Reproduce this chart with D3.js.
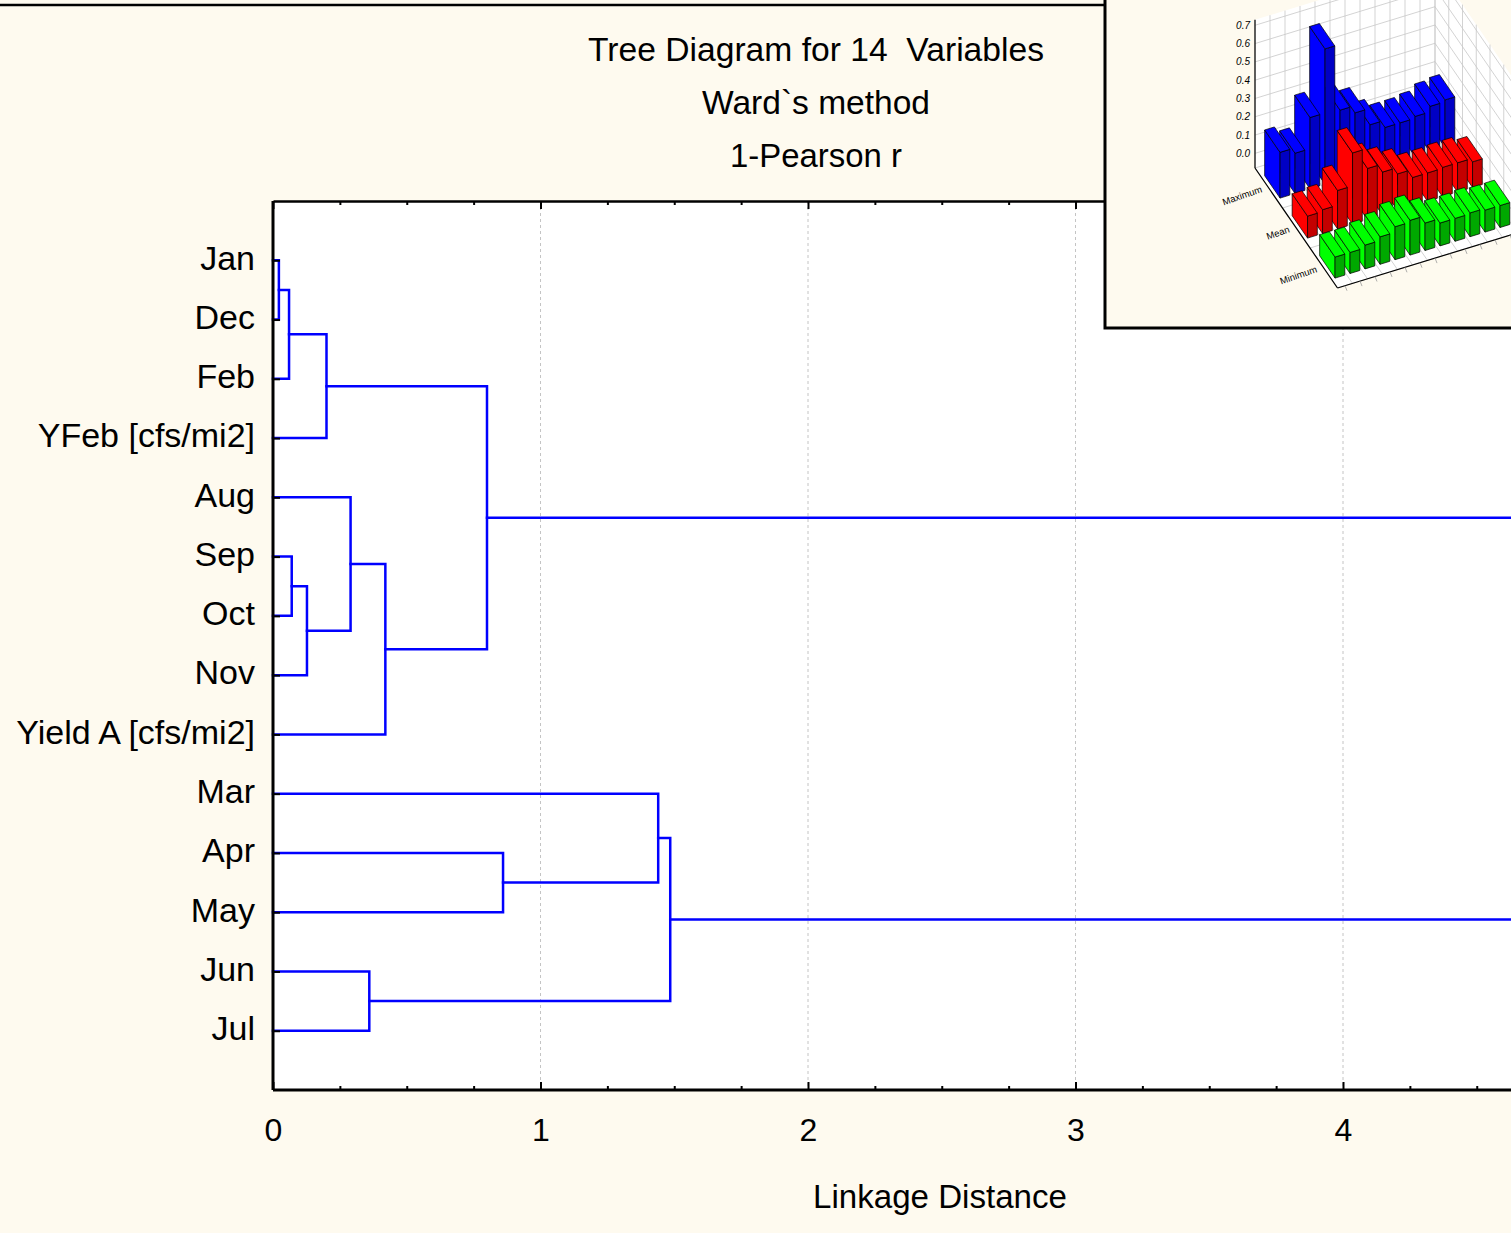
<!DOCTYPE html>
<html><head><meta charset="utf-8">
<script src="https://cdn.jsdelivr.net/npm/d3@7"></script>
<style>
html,body{margin:0;padding:0;background:#fefaef;}
svg{display:block;font-family:"Liberation Sans",Arial,sans-serif;}
text{white-space:pre;}
</style>
</head><body>
<svg id="chart" width="1511" height="1233"></svg>
<script>
// ---------------- data ----------------
const leafLabels = ["Jan","Dec","Feb","YFeb [cfs/mi2]","Aug","Sep","Oct","Nov","Yield A [cfs/mi2]","Mar","Apr","May","Jun","Jul"];
// linkage: leaves are 0..13, merge k creates node 14+k
const mergeLeft   = [0, 14, 15, 5, 17, 4, 19, 16, 10, 9, 12, 23, 21];
const mergeRight  = [1, 2, 3, 6, 7, 18, 8, 20, 11, 22, 13, 24, 25];
const mergeHeight = [0.022, 0.06, 0.20, 0.07, 0.127, 0.29, 0.42, 0.80, 0.86, 1.44, 0.36, 1.485, 5.2];
const xLabelTicks = [0, 1, 2, 3, 4];
const xMajorTicks = [0, 1, 2, 3, 4, 5];
const xMinorTicks = [0.25, 0.5, 0.75, 1.25, 1.5, 1.75, 2.25, 2.5, 2.75, 3.25, 3.5, 3.75, 4.25, 4.5, 4.75, 5.25];
const titleLines = ["Tree Diagram for 14  Variables", "Ward`s method", "1-Pearson r"];
const xAxisTitle = "Linkage Distance";

// inset 3D bar chart
const insetColumns = ["1","2","3","4","5","6","7","8","9","10","11","12"];
const insetRows = ["Maximum", "Mean", "Minimum"];
const insetMaximum = [0.17, 0.14, 0.31, 0.66, 0.30, 0.26, 0.17, 0.13, 0.13, 0.14, 0.17, 0.18];
const insetMean    = [0.04, 0.05, 0.13, 0.31, 0.20, 0.155, 0.12, 0.075, 0.075, 0.08, 0.08, 0.06];
const insetMinimum = [0.035, 0.035, 0.05, 0.07, 0.10, 0.11, 0.07, 0.045, 0.045, 0.05, 0.04, 0.04];
const insetTicks = [0.0, 0.1, 0.2, 0.3, 0.4, 0.5, 0.6, 0.7];

// ---------------- chart ----------------
const svg = d3.select("#chart");
const bg = "#fefaef";
svg.append("rect").attr("width", 1511).attr("height", 1233).attr("fill", bg);

// outer frame top line
svg.append("line").attr("x1", 0).attr("x2", 1511).attr("y1", 5).attr("y2", 5)
  .attr("stroke", "#000").attr("stroke-width", 2.5);

const plot = {left: 273, top: 201, bottom: 1090, right: 1530};
const x = d3.scaleLinear().domain([0, 5]).range([plot.left, plot.left + 5 * 267.5]);
const y = d3.scalePoint().domain(leafLabels).range([plot.top, plot.bottom]).padding(1);

svg.append("rect").attr("x", plot.left).attr("y", plot.top)
  .attr("width", plot.right - plot.left).attr("height", plot.bottom - plot.top)
  .attr("fill", "#fff");

// gridlines
svg.append("g").selectAll("line").data(xMajorTicks.filter(d => d > 0)).join("line")
  .attr("x1", d => x(d)).attr("x2", d => x(d))
  .attr("y1", plot.top).attr("y2", plot.bottom)
  .attr("stroke", "#c4c4c4").attr("stroke-width", 1).attr("stroke-dasharray", "3,3");

// titles
const titleY = [61, 114, 167];
const titleW = [456, 228, 172];
svg.append("g").selectAll("text").data(titleLines).join("text")
  .attr("x", 816).attr("y", (d, i) => titleY[i])
  .attr("text-anchor", "middle").attr("font-size", 33).attr("fill", "#000")
  .attr("textLength", (d, i) => titleW[i]).attr("lengthAdjust", "spacingAndGlyphs")
  .text(d => d);

// dendrogram
const nodeY = leafLabels.map(l => y(l));
const nodeH = leafLabels.map(() => 0);
const links = [];
mergeLeft.forEach((l, k) => {
  const r = mergeRight[k], h = mergeHeight[k];
  links.push({l, r, h});
  nodeY.push((nodeY[l] + nodeY[r]) / 2);
  nodeH.push(h);
});
svg.append("g").selectAll("path").data(links).join("path")
  .attr("d", d => `M${x(nodeH[d.l])},${nodeY[d.l]}H${x(d.h)}V${nodeY[d.r]}H${x(nodeH[d.r])}`)
  .attr("fill", "none").attr("stroke", "#0000ff").attr("stroke-width", 2.5)
  .attr("stroke-linejoin", "miter").attr("stroke-linecap", "square");

// axes
function styleAxis(g) {
  g.select(".domain").attr("stroke", "#000").attr("stroke-width", 3);
  g.selectAll(".tick line").attr("stroke", "#000").attr("stroke-width", 2);
  g.selectAll("text").attr("fill", "#000").attr("font-family", "'Liberation Sans',Arial,sans-serif");
}
// bottom
const gBottom = svg.append("g").attr("transform", `translate(0,${plot.bottom})`)
  .call(d3.axisBottom(x).tickValues(xLabelTicks).tickSize(-8).tickPadding(28).tickFormat(d3.format("d")).tickSizeOuter(0));
styleAxis(gBottom);
gBottom.select(".domain").attr("d", `M${plot.left},0H${plot.right}`);
gBottom.selectAll("text").attr("font-size", 32);
svg.append("g").attr("transform", `translate(0,${plot.bottom})`)
  .call(d3.axisBottom(x).tickValues(xMinorTicks).tickSize(-4).tickFormat("").tickSizeOuter(0))
  .call(g => { g.select(".domain").remove(); g.selectAll(".tick line").attr("stroke", "#000").attr("stroke-width", 2); });
// top
const gTop = svg.append("g").attr("transform", `translate(0,${plot.top})`)
  .call(d3.axisTop(x).tickValues(xMajorTicks).tickSize(-8).tickFormat("").tickSizeOuter(0));
styleAxis(gTop);
gTop.select(".domain").attr("stroke-width", 2.5);
svg.append("g").attr("transform", `translate(0,${plot.top})`)
  .call(d3.axisTop(x).tickValues(xMinorTicks).tickSize(-4).tickFormat("").tickSizeOuter(0))
  .call(g => { g.select(".domain").remove(); g.selectAll(".tick line").attr("stroke", "#000").attr("stroke-width", 2); });
// left
const gLeft = svg.append("g").attr("transform", `translate(${plot.left},0)`)
  .call(d3.axisLeft(y).tickSize(-7).tickPadding(18).tickSizeOuter(0));
styleAxis(gLeft);
gLeft.selectAll("text").attr("font-size", 34).attr("dy", "0.26em");
gLeft.select(".domain").attr("d", `M0,${plot.top}V${plot.bottom}`);

// axis title
svg.append("text").attr("x", 940).attr("y", 1208).attr("text-anchor", "middle")
  .attr("font-size", 33).attr("fill", "#000")
  .attr("textLength", 254).attr("lengthAdjust", "spacingAndGlyphs")
  .text(xAxisTitle);

// ---------------- inset ----------------
const inset = svg.append("g");
const defs = svg.append("defs");
defs.append("clipPath").attr("id", "insetClip").append("rect")
  .attr("x", 1106.5).attr("y", 0).attr("width", 420).attr("height", 320.5);
inset.append("rect").attr("x", 1105).attr("y", -10).attr("width", 430).attr("height", 338)
  .attr("fill", bg).attr("stroke", "#000").attr("stroke-width", 3);
const ig = inset.append("g").attr("clip-path", "url(#insetClip)");

const vMin = -0.08, vTop = 0.73;
const colX = d3.scaleLinear().domain([0, 12]).range([0, 180]);
const colY = d3.scaleLinear().domain([0, 12]).range([0, -55.2]);
const rowX = d3.scaleLinear().domain([0, 3]).range([0, 82.5]);
const rowY = d3.scaleLinear().domain([0, 3]).range([0, 120]);
const zS = d3.scaleLinear().domain([vMin, vTop]).range([0, -148.2]);
const O = [1255, 168];
const P = (c, r, v) => [O[0] + colX(c) + rowX(r), O[1] + colY(c) + rowY(r) + zS(v)];
const poly = pts => "M" + pts.map(p => p.join(",")).join("L") + "Z";
const nC = insetColumns.length, nR = insetRows.length;

// walls and floor
ig.append("path").attr("d", poly([P(0,0,vMin), P(nC,0,vMin), P(nC,0,vTop), P(0,0,vTop)])).attr("fill", "#fff");
ig.append("path").attr("d", poly([P(nC,0,vMin), P(nC,nR,vMin), P(nC,nR,vTop), P(nC,0,vTop)])).attr("fill", "#fff");
ig.append("path").attr("d", poly([P(0,0,vMin), P(nC,0,vMin), P(nC,nR,vMin), P(0,nR,vMin)])).attr("fill", "#fff");
const grid = ig.append("g").attr("stroke", "#c8c8c8").attr("stroke-width", 0.8).attr("fill", "none");
const gridLines = [];
insetTicks.forEach(v => {
  gridLines.push([P(0,0,v), P(nC,0,v)]);
  gridLines.push([P(nC,0,v), P(nC,nR,v)]);
});
d3.range(nC + 1).forEach(c => {
  gridLines.push([P(c,0,vMin), P(c,0,vTop)]);
  gridLines.push([P(c,0,vMin), P(c,nR,vMin)]);
});
[0, 0.5, 1, 1.5, 2, 2.5, 3].forEach(r => gridLines.push([P(nC,r,vMin), P(nC,r,vTop)]));
d3.range(nR + 1).forEach(r => gridLines.push([P(0,r,vMin), P(nC,r,vMin)]));
grid.selectAll("line").data(gridLines).join("line")
  .attr("x1", d => d[0][0]).attr("y1", d => d[0][1]).attr("x2", d => d[1][0]).attr("y2", d => d[1][1]);

// axis lines
const axL = ig.append("g").attr("stroke", "#000").attr("stroke-width", 1.2);
[[P(0,0,vMin), P(0,0,vTop)], [P(0,0,vMin), P(0,nR,vMin)], [P(0,nR,vMin), P(nC,nR,vMin)]].forEach(s =>
  axL.append("line").attr("x1", s[0][0]).attr("y1", s[0][1]).attr("x2", s[1][0]).attr("y2", s[1][1]));
// front edge ticks
ig.append("g").selectAll("line").data(insetColumns).join("line")
  .attr("x1", (d, i) => P(i + 0.5, nR, vMin)[0]).attr("y1", (d, i) => P(i + 0.5, nR, vMin)[1])
  .attr("x2", (d, i) => P(i + 0.5, nR, vMin)[0] + 2).attr("y2", (d, i) => P(i + 0.5, nR, vMin)[1] + 5)
  .attr("stroke", "#999").attr("stroke-width", 0.8);

// z labels
ig.append("g").selectAll("text").data(insetTicks).join("text")
  .attr("x", d => P(0,0,d)[0] - 5).attr("y", d => P(0,0,d)[1] + 3.5)
  .attr("text-anchor", "end").attr("font-size", 10).attr("font-style", "italic").attr("fill", "#000")
  .text(d => d.toFixed(1));

// row labels
ig.append("g").selectAll("text").data(insetRows).join("text")
  .attr("transform", (d, j) => { const p = P(0, j + 0.5, vMin); return `translate(${p[0] - 6},${p[1] + 4}) rotate(-19)`; })
  .attr("text-anchor", "end").attr("font-size", 9.5).attr("fill", "#000")
  .text(d => d);

// bars
const rowData = [insetMaximum, insetMean, insetMinimum];
const bright = ["#0000ff", "#ff0000", "#00ff00"];
const dark = ["#0000c4", "#c40000", "#00a800"];
const bars = ig.append("g").attr("stroke", "#000").attr("stroke-width", 0.7).attr("stroke-linejoin", "round");
rowData.forEach((vals, j) => {
  for (let i = nC - 1; i >= 0; i--) {
    const v = vals[i];
    const c0 = i + 0.24, c1 = i + 0.89, r0 = j + 0.22, r1 = j + 0.78;
    bars.append("path").attr("fill", bright[j])
      .attr("d", poly([P(c0,r0,vMin), P(c0,r1,vMin), P(c0,r1,v), P(c0,r0,v)]));
    bars.append("path").attr("fill", dark[j])
      .attr("d", poly([P(c0,r1,vMin), P(c1,r1,vMin), P(c1,r1,v), P(c0,r1,v)]));
    bars.append("path").attr("fill", bright[j])
      .attr("d", poly([P(c0,r0,v), P(c1,r0,v), P(c1,r1,v), P(c0,r1,v)]));
  }
});
</script>
</body></html>
